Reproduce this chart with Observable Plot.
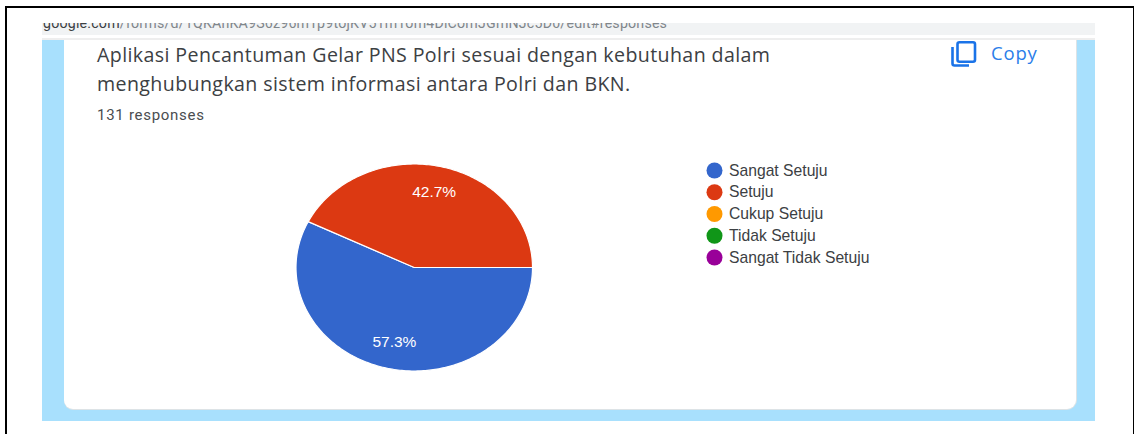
<!DOCTYPE html>
<html>
<head>
<meta charset="utf-8">
<script src="https://cdn.jsdelivr.net/npm/d3@7"></script>
<script src="https://cdn.jsdelivr.net/npm/@observablehq/plot@0.6"></script>
<style>
html,body{margin:0;padding:0;background:#fff;overflow:hidden}
#page{position:relative;width:1134px;height:434px;overflow:hidden;background:#fff}
#page>*{position:absolute}
.t{white-space:nowrap;margin:0;font-weight:400}
svg{display:block;background:transparent!important}
</style>
</head>
<body>
<div id="page">
  <div style="left:5px;top:6px;width:1129px;height:2px;background:#000"></div>
  <div style="left:5px;top:6px;width:2px;height:428px;background:#000"></div>
  <div style="left:1133px;top:6px;width:1px;height:428px;background:#000"></div>
  <div style="left:42px;top:23px;width:1053px;height:12px;background:#f1f3f4;overflow:hidden">
    <div class="t" style="position:absolute;left:1px;top:-9px;font:14.2px/18px Roboto,sans-serif;letter-spacing:.2px;color:#80868b"><span style="color:#3c4043">google.com</span>/forms/d/1QKAhKA9S6z96mTp9tojKV51mTom4DiComJGmNJc5D0/edit#responses</div>
  </div>
  <div style="left:42px;top:38px;width:1053px;height:2px;background:#eeeeee"></div>
  <div style="left:42px;top:40px;width:1053px;height:381px;background:#a8e0fd"></div>
  <div style="left:64px;top:40px;width:1012px;height:369px;background:#fff;border-radius:0 0 9px 9px;box-shadow:1px 0 0 #dde3e6,0 1px 0 #dde3e6"></div>
  <div id="title" class="t" style="left:97px;top:41px;font:19.6px/28.5px 'Open Sans',sans-serif;letter-spacing:.39px;color:#3c4043">Aplikasi Pencantuman Gelar PNS Polri sesuai dengan kebutuhan dalam<br>menghubungkan sistem informasi antara Polri dan BKN.</div>
  <div class="t" style="left:97px;top:107px;font:15px/16px Roboto,sans-serif;letter-spacing:.72px;color:#4a4d50">131 responses</div>
  <svg style="left:950px;top:40px" width="28" height="28" viewBox="0 0 28 28" fill="none" stroke="#1a73e8" stroke-width="2.6">
    <rect x="7.5" y="2.3" width="17.5" height="19.5" rx="2"/>
    <path d="M2.5 7v16.5a2 2 0 0 0 2 2H19"/>
  </svg>
  <div class="t" style="left:991px;top:43px;font:500 18.5px/20px 'Open Sans',sans-serif;letter-spacing:.8px;color:#2b7de9">Copy</div>
</div>
<script>
const categories = ["Sangat Setuju", "Setuju", "Cukup Setuju", "Tidak Setuju", "Sangat Tidak Setuju"];
const shares = [57.3, 42.7, 0, 0, 0];
const colors = ["#3366cc", "#dc3912", "#ff9900", "#109618", "#990099"];
const startAngle = Math.PI / 2;
const labelRadius = 0.74;

const pie = d3.pie().sort(null).value((d) => d).startAngle(startAngle).endAngle(startAngle + 2 * Math.PI)(shares);
const slices = pie.filter((a) => a.value > 0);

// Each slice outline in unit-circle data coordinates, derived from its share.
const outline = slices.flatMap((a) => {
  const name = categories[a.index];
  const steps = Math.ceil((a.endAngle - a.startAngle) * 60);
  const pts = [{name, x: 0, y: 0}];
  for (let i = 0; i <= steps; ++i) {
    const t = a.startAngle + (a.endAngle - a.startAngle) * i / steps;
    pts.push({name, x: Math.sin(t), y: Math.cos(t)});
  }
  pts.push({name, x: 0, y: 0});
  return pts;
});
const labels = slices.map((a) => {
  const t = (a.startAngle + a.endAngle) / 2;
  return {x: labelRadius * Math.sin(t), y: labelRadius * Math.cos(t), text: a.value.toFixed(1) + "%"};
});
const color = {domain: categories, range: colors};

const pieChart = Plot.plot({
  width: 1134, height: 434,
  marginLeft: 295.5, marginRight: 602, marginTop: 163.5, marginBottom: 63.5,
  x: {domain: [-1, 1], axis: null},
  y: {domain: [-1, 1], axis: null},
  color,
  marks: [
    Plot.line(outline, {x: "x", y: "y", z: "name", fill: "name", stroke: "#fff", strokeWidth: 1.2, strokeLinejoin: "round", curve: "linear"}),
    Plot.text(labels, {x: "x", y: "y", text: "text", dy: -0.5, fill: "#fff", fontSize: 15.5, fontFamily: "Liberation Sans, Arial, sans-serif"})
  ]
});
pieChart.style.left = "0"; pieChart.style.top = "0";
document.getElementById("page").appendChild(pieChart);

const legend = Plot.plot({
  width: 200, height: 109,
  marginLeft: 24, marginRight: 0, marginTop: 11, marginBottom: 11,
  x: {domain: [0, 1], range: [24, 200], axis: null},
  y: {domain: categories, type: "point", padding: 0, round: false, axis: null},
  color,
  marks: [
    Plot.dot(categories, {x: () => 0, y: (d) => d, r: 8, fill: (d) => d, stroke: null}),
    Plot.text(categories, {x: () => 0, y: (d) => d, text: (d) => d, dx: 14.5, textAnchor: "start", fill: "#3c4043", fontSize: 15.7, fontFamily: "Liberation Sans, Arial, sans-serif"})
  ]
});
legend.style.left = "690px"; legend.style.top = "159px";
document.getElementById("page").appendChild(legend);
</script>
</body>
</html>
